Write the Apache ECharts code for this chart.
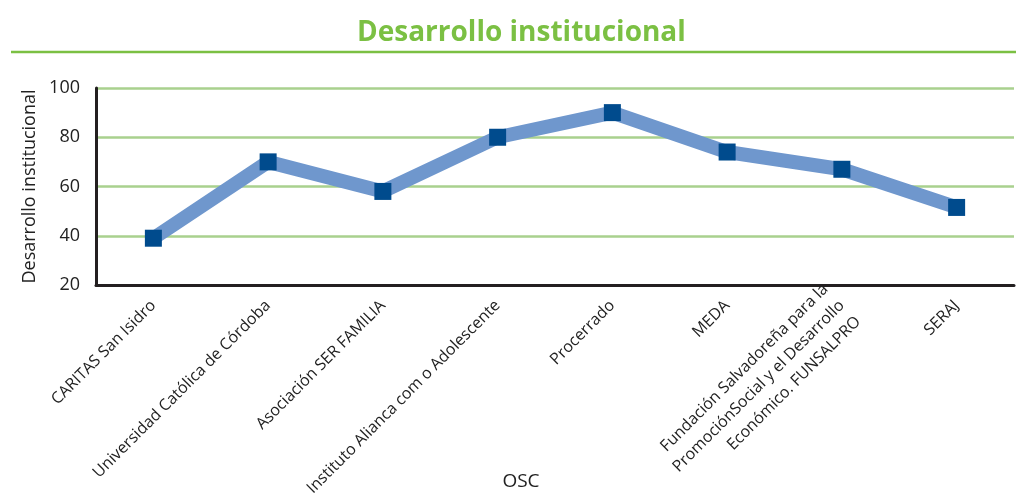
<!DOCTYPE html>
<html>
<head>
<meta charset="utf-8">
<script src="https://cdn.jsdelivr.net/npm/echarts@6/dist/echarts.min.js"></script>
<style>
  html, body { margin: 0; padding: 0; background: #fff; }
  #main { width: 1016px; height: 495px; }
</style>
</head>
<body>
<div id="main"></div>
<script>
var osc = [
  'CARITAS San Isidro',
  'Universidad Católica de Córdoba',
  'Asociación SER FAMILIA',
  'Instituto Alianca com o Adolescente',
  'Procerrado',
  'MEDA',
  'Fundación Salvadoreña para la\nPromociónSocial y el Desarrollo\nEconómico. FUNSALPRO',
  'SERAJ'
];
var desarrollo = [39, 70, 58, 80, 90, 74, 67, 51.5];
var yTicks = [20, 40, 60, 80, 100];

var font = '"Open Sans", sans-serif';
var chart = echarts.init(document.getElementById('main'));

var option = {
  animation: false,
  title: {
    text: 'Desarrollo institucional',
    left: 357,
    top: 19,
    padding: 0,
    textStyle: { color: '#7bc043', fontSize: 28, fontWeight: 'bold', fontFamily: font }
  },
  graphic: [{
    type: 'line',
    shape: { x1: 11, y1: 52, x2: 1016, y2: 52 },
    style: { stroke: '#7bc043', lineWidth: 2.5 }
  }],
  grid: { left: 96, right: 2, top: 88, bottom: 210, outerBoundsMode: 'none', containLabel: false },
  xAxis: {
    type: 'category',
    data: osc,
    boundaryGap: true,
    name: 'OSC',
    nameLocation: 'middle',
    nameGap: 187,
    nameMoveOverlap: false,
    // el título del eje está algo a la izquierda del centro
    nameTextStyle: { fontSize: 19, color: '#222', fontFamily: font, padding: [0, 68, 0, 0] },
    axisLine: { lineStyle: { color: '#231f20', width: 3 } },
    axisTick: { show: false },
    axisLabel: {
      interval: 0, rotate: 45, margin: 18, hideOverlap: false,
      fontSize: 16, color: '#222', fontFamily: font, lineHeight: 23
    }
  },
  yAxis: {
    type: 'value',
    min: yTicks[0],
    max: yTicks[yTicks.length - 1],
    interval: 20,
    name: 'Desarrollo institucional',
    nameLocation: 'middle',
    nameGap: 57,
    nameMoveOverlap: false,
    nameTextStyle: { fontSize: 18, color: '#222', fontFamily: font },
    axisLine: { show: true, lineStyle: { color: '#231f20', width: 3 } },
    axisTick: { show: false },
    axisLabel: { fontSize: 18, color: '#222', fontFamily: font, margin: 16 },
    splitLine: { lineStyle: { color: '#a9d18e', width: 2.5 } }
  },
  series: [{
    type: 'line',
    data: desarrollo,
    symbol: 'rect',
    symbolSize: 17,
    lineStyle: { color: '#6f97cd', width: 14, join: 'bevel' },
    itemStyle: { color: '#004b8d' }
  }]
};
chart.setOption(option);
window.onresize = chart.resize;
</script>
</body>
</html>
